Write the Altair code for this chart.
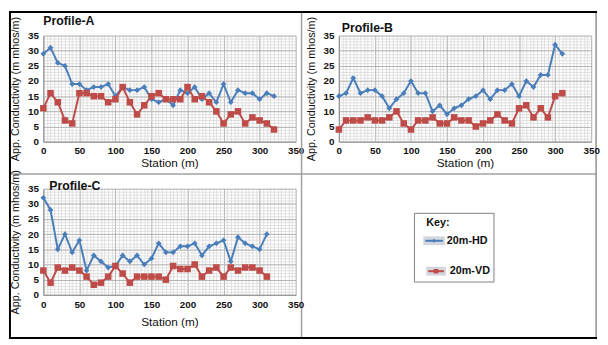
import altair as alt
import pandas as pd

# ---------------- data ----------------
stations_a = list(range(0, 330, 10))
hd_a = [29, 31, 26, 25, 19, 19, 17, 18, 18, 19, 15, 18, 17, 17, 18, 14, 13, 14, 12, 17,
        16, 18, 14, 16, 13, 19, 13, 17, 16, 16, 14, 16, 15]
vd_a = [11, 16, 13, 7, 6, 16, 16, 15, 15, 13, 14, 18, 13, 9, 12, 15, 16, 14, 14, 14,
        18, 14, 15, 13, 10, 6, 9, 10, 6, 8, 7, 6, 4]

stations_b = list(range(0, 320, 10))
hd_b = [15, 16, 21, 16, 17, 17, 15, 11, 14, 16, 20, 16, 16, 10, 12, 9, 11, 12, 14, 15,
        17, 14, 17, 17, 19, 15, 20, 18, 22, 22, 32, 29]
vd_b = [4, 7, 7, 7, 8, 7, 7, 8, 10, 6, 4, 7, 7, 8, 6, 6, 8, 7, 7, 5,
        6, 7, 9, 7, 6, 11, 12, 8, 11, 8, 15, 16]

stations_c = list(range(0, 320, 10))
hd_c = [32, 28, 15, 20, 14, 18, 8, 13, 11, 9, 9.5, 13, 11, 13, 10, 12, 17, 14, 14, 16,
        16, 17, 13, 16, 17, 18, 11, 19, 17, 16, 15, 20]
vd_c = [8, 4, 9, 8, 9, 8, 6, 3.3, 4, 6, 9.5, 7, 4, 6, 6, 6, 6, 5, 9.5, 8.5,
        8.5, 10, 6, 8, 9, 6, 9, 8, 9, 9, 8, 6]

titles = ["Profile-A", "Profile-B", "Profile-C"]
series_names = ["20m-HD", "20m-VD"]
x_major = list(range(0, 351, 50))
x_minor = list(range(0, 351, 5))
y_major = list(range(0, 36, 5))
y_minor = list(range(0, 36, 1))

# ---------------- style ----------------
FONT = "Liberation Sans"
BLUE = "#4a7ebb"
RED = "#be4b48"
MINOR = "#d4d4d4"
MAJOR = "#a8a8a8"
W, H = 257, 108
YTITLE = "App. Conductivity (m mhos/m)"

one = pd.DataFrame({"k": [0]})


def panel(stations, hd, vd, title, tx, ty, lab_pad=4, title_pad=2, extra=()):
    df_hd = pd.DataFrame({"station": stations, "value": hd})
    df_vd = pd.DataFrame({"station": stations, "value": vd})
    xs = alt.Scale(domain=[0, 350], nice=False, zero=False)
    ys = alt.Scale(domain=[0, 35], nice=False)

    minor = alt.Chart(df_hd).mark_point(opacity=0).encode(
        x=alt.X("station:Q", scale=xs, axis=alt.Axis(
            orient="top", values=x_minor, grid=True, gridColor=MINOR, gridWidth=0.7,
            labels=False, ticks=False, domain=False, title=None)),
        y=alt.Y("value:Q", scale=ys, axis=alt.Axis(
            orient="right", values=y_minor, grid=True, gridColor=MINOR, gridWidth=0.7,
            labels=False, ticks=False, domain=False, title=None)),
    )
    xa = alt.Axis(values=x_major, grid=True, gridColor=MAJOR, gridWidth=0.8,
                  domainColor="#8c8c8c", ticks=False, labelPadding=lab_pad,
                  labelFontWeight="bold", labelFontSize=10, labelColor="#111",
                  title="Station (m)", titleFontSize=12, titleFontWeight="normal",
                  titlePadding=title_pad, titleColor="#111", labelFlush=False)
    ya = alt.Axis(values=y_major, grid=True, gridColor=MAJOR, gridWidth=0.8,
                  domainColor="#8c8c8c", ticks=False, labelPadding=5,
                  labelFontWeight="bold", labelFontSize=10, labelColor="#111",
                  title=YTITLE, titleFontSize=11, titleFontWeight="normal",
                  titleColor="#111", titleX=-23)
    blue_line = alt.Chart(df_hd).mark_line(color=BLUE, strokeWidth=2).encode(
        x=alt.X("station:Q", scale=xs, axis=xa),
        y=alt.Y("value:Q", scale=ys, axis=ya),
    )
    blue_pts = alt.Chart(df_hd).mark_point(
        shape="diamond", filled=True, color=BLUE, size=34, opacity=1).encode(
        x=alt.X("station:Q", axis=None), y=alt.Y("value:Q", axis=None))
    red_line = alt.Chart(df_vd).mark_line(color=RED, strokeWidth=2).encode(
        x=alt.X("station:Q", axis=None), y=alt.Y("value:Q", axis=None))
    red_pts = alt.Chart(df_vd).mark_point(
        shape="square", filled=True, color=RED, size=44, opacity=1).encode(
        x=alt.X("station:Q", axis=None), y=alt.Y("value:Q", axis=None))
    ttl = alt.Chart(one).mark_text(
        text=title, align="left", baseline="middle", font=FONT, fontSize=12.5,
        fontWeight="bold", color="#111").encode(x=alt.value(tx), y=alt.value(ty))

    return alt.layer(minor, blue_line, blue_pts, red_line, red_pts, ttl, *extra).resolve_axis(
        x="independent", y="independent"
    ).properties(width=W, height=H)


# page frame lines (decoration), positioned relative to panel A's plot area
def hline(x1, x2, y, color, w):
    return alt.Chart(one).mark_rule(color=color, strokeWidth=w).encode(
        x=alt.value(x1), x2=alt.value(x2), y=alt.value(y))


def vline(x, y1, y2, color, w):
    return alt.Chart(one).mark_rule(color=color, strokeWidth=w).encode(
        x=alt.value(x), y=alt.value(y1), y2=alt.value(y2))


frame = [
    hline(-35, 564, 141, "#a0a0a0", 1.5),
    vline(263, -23, 308, "#a0a0a0", 1.5),
    vline(563, -24, 309, "#909090", 1.5),
    hline(-35, 564, -24, "black", 2),
    vline(-34, -24, 309, "black", 2),
    hline(-35, 564, 308, "black", 2),
]

pa = panel(stations_a, hd_a, vd_a, titles[0], 0, -15, extra=frame)
pb = panel(stations_b, hd_b, vd_b, titles[1], 3, -8)
pc = panel(stations_c, hd_c, vd_c, titles[2], 6, -3, lab_pad=5, title_pad=7)

# ---------------- key ----------------
key_df = pd.DataFrame({"label": series_names})
box = alt.Chart(one).mark_rect(fill="white", stroke="#7f7f7f", strokeWidth=1).encode(
    x=alt.value(77), x2=alt.value(158), y=alt.value(25), y2=alt.value(95))
key_t = alt.Chart(one).mark_text(text="Key:", align="left", baseline="middle",
                                 font=FONT, fontSize=11, fontWeight="bold", color="#111").encode(
    x=alt.value(89), y=alt.value(35))


def key_entry(label, color, shape, size, x1, x2, yc, tx):
    bg = alt.Chart(key_df).transform_filter(alt.datum.label == label).mark_rect(
        fill="#c8ccd4", opacity=0.8).encode(
        x=alt.value(x1), x2=alt.value(x2), y=alt.value(yc - 4.5), y2=alt.value(yc + 4.5))
    ln = alt.Chart(key_df).transform_filter(alt.datum.label == label).mark_rule(
        color=color, strokeWidth=2).encode(x=alt.value(x1 + 2), x2=alt.value(x2 - 2), y=alt.value(yc))
    pt = alt.Chart(key_df).transform_filter(alt.datum.label == label).mark_point(
        shape=shape, filled=True, color=color, size=size, opacity=1).encode(
        x=alt.value((x1 + x2) / 2), y=alt.value(yc))
    tx_ = alt.Chart(key_df).transform_filter(alt.datum.label == label).mark_text(
        align="left", baseline="middle", font=FONT, fontSize=11, fontWeight="bold",
        color="#111").encode(text="label:N", x=alt.value(tx), y=alt.value(yc))
    return [bg, ln, pt, tx_]


key = alt.layer(
    box, key_t,
    *key_entry(series_names[0], BLUE, "diamond", 18, 86, 108, 53, 110),
    *key_entry(series_names[1], RED, "square", 22, 89, 109, 84, 113),
).properties(width=W, height=H)

chart = alt.concat(
    pa, pb, pc, key, columns=2, spacing={"row": 48, "column": 44}, bounds="flush"
).properties(
    padding=0, background="white"
).configure_view(stroke=None).configure_axis(
    labelFont=FONT, titleFont=FONT
)

chart.save("out.html", embed_options={"renderer": "svg", "actions": False})
